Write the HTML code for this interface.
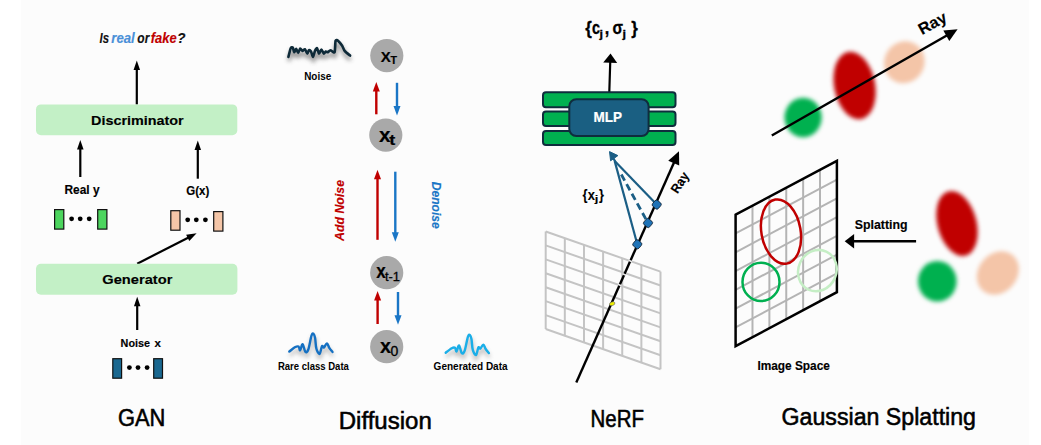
<!DOCTYPE html>
<html><head><meta charset="utf-8"><style>
html,body{margin:0;padding:0;background:#fff;}
svg{display:block;font-family:"Liberation Sans",sans-serif;}
</style></head><body>
<svg width="1041" height="445" viewBox="0 0 1041 445">
<defs>
<filter id="bl" x="-50%" y="-50%" width="200%" height="200%"><feGaussianBlur stdDeviation="1.9"/></filter>
<filter id="sh" x="-20%" y="-50%" width="140%" height="200%"><feGaussianBlur stdDeviation="1.9"/></filter>
</defs>
<rect width="1041" height="445" fill="#ffffff"/><rect x="21" y="0" width="1008" height="445" fill="#fcfcfc"/>
<text x="99.6" y="42.8" font-size="14" font-weight="bold" font-style="italic" text-anchor="start" fill="#111" stroke="#111" stroke-width="0.15" textLength="9.5" lengthAdjust="spacingAndGlyphs" >Is</text>
<text x="111.3" y="42.8" font-size="14" font-weight="bold" font-style="italic" text-anchor="start" fill="#4a90d8" stroke="#4a90d8" stroke-width="0.15" textLength="23.5" lengthAdjust="spacingAndGlyphs" >real</text>
<text x="137.3" y="42.8" font-size="14" font-weight="bold" font-style="italic" text-anchor="start" fill="#111" stroke="#111" stroke-width="0.15" textLength="12" lengthAdjust="spacingAndGlyphs" >or</text>
<text x="150.7" y="42.8" font-size="14" font-weight="bold" font-style="italic" text-anchor="start" fill="#c00000" stroke="#c00000" stroke-width="0.15" textLength="26" lengthAdjust="spacingAndGlyphs" >fake</text>
<text x="177" y="42.8" font-size="14" font-weight="bold" font-style="italic" text-anchor="start" fill="#111" stroke="#111" stroke-width="0.15" textLength="8.5" lengthAdjust="spacingAndGlyphs" >?</text>
<line x1="136.80" y1="104.50" x2="136.80" y2="69.00" stroke="#000" stroke-width="2.2"/><polygon points="136.80,60.50 140.05,70.00 133.55,70.00" fill="#000"/>
<rect x="36" y="104.4" width="201.3" height="30.8" rx="5" fill="#c3f0c6"/>
<text x="91" y="124.6" font-size="13.7" font-weight="bold" font-style="normal" text-anchor="start" fill="#000" stroke="#000" stroke-width="0.15" textLength="92.7" lengthAdjust="spacingAndGlyphs" >Discriminator</text>
<line x1="80.30" y1="177.00" x2="80.30" y2="148.50" stroke="#000" stroke-width="2.2"/><polygon points="80.30,140.00 83.55,149.50 77.05,149.50" fill="#000"/>
<line x1="197.80" y1="178.70" x2="197.80" y2="148.90" stroke="#000" stroke-width="2.2"/><polygon points="197.80,140.40 201.05,149.90 194.55,149.90" fill="#000"/>
<text x="82" y="194.3" font-size="12.5" font-weight="bold" font-style="normal" text-anchor="middle" fill="#000" stroke="#000" stroke-width="0.15" textLength="35" lengthAdjust="spacingAndGlyphs" >Real y</text>
<text x="197.8" y="195" font-size="12.5" font-weight="bold" font-style="normal" text-anchor="middle" fill="#000" stroke="#000" stroke-width="0.15" textLength="23" lengthAdjust="spacingAndGlyphs" >G(x)</text>
<rect x="54.6" y="209.6" width="9.2" height="19.5" fill="#4cd55e" stroke="#111" stroke-width="1.2"/><rect x="97.7" y="209.6" width="9.2" height="19.5" fill="#4cd55e" stroke="#111" stroke-width="1.2"/><circle cx="71.6" cy="218.8" r="2.4" fill="#000"/><circle cx="80.2" cy="218.8" r="2.4" fill="#000"/><circle cx="89.2" cy="218.8" r="2.4" fill="#000"/>
<rect x="170.8" y="210.7" width="9.2" height="19.5" fill="#f5c6a8" stroke="#111" stroke-width="1.2"/><rect x="213.7" y="211.6" width="9.2" height="19.5" fill="#f5c6a8" stroke="#111" stroke-width="1.2"/><circle cx="187.7" cy="219.8" r="2.4" fill="#000"/><circle cx="196.3" cy="219.8" r="2.4" fill="#000"/><circle cx="205.4" cy="219.8" r="2.4" fill="#000"/>
<line x1="137.20" y1="263.70" x2="188.59" y2="237.40" stroke="#000" stroke-width="2.2"/><polygon points="196.60,233.30 189.29,240.97 186.10,234.74" fill="#000"/>
<rect x="36" y="263.7" width="201.4" height="31.1" rx="5" fill="#c3f0c6"/>
<text x="102.3" y="283.5" font-size="13.7" font-weight="bold" font-style="normal" text-anchor="start" fill="#000" stroke="#000" stroke-width="0.15" textLength="70.1" lengthAdjust="spacingAndGlyphs" >Generator</text>
<line x1="137.20" y1="330.00" x2="137.20" y2="305.30" stroke="#000" stroke-width="2.2"/><polygon points="137.20,296.80 140.45,306.30 133.95,306.30" fill="#000"/>
<text x="120.6" y="346.8" font-size="11.6" font-weight="bold" font-style="normal" text-anchor="start" fill="#000" stroke="#000" stroke-width="0.15" textLength="29.4" lengthAdjust="spacingAndGlyphs" >Noise</text>
<text x="154.6" y="346.8" font-size="11.6" font-weight="bold" font-style="normal" text-anchor="start" fill="#000" stroke="#000" stroke-width="0.15" textLength="6.4" lengthAdjust="spacingAndGlyphs" >x</text>
<rect x="112.8" y="358.7" width="8.8" height="19.5" fill="#1a6890" stroke="#111" stroke-width="1.2"/><rect x="153.7" y="358.7" width="8.8" height="19.5" fill="#1a6890" stroke="#111" stroke-width="1.2"/><circle cx="129.4" cy="367.6" r="2.4" fill="#000"/><circle cx="138" cy="367.6" r="2.4" fill="#000"/><circle cx="147.1" cy="367.6" r="2.4" fill="#000"/>
<text x="117.9" y="426" font-size="23.5" font-weight="normal" font-style="normal" text-anchor="start" fill="#000" stroke="#000" stroke-width="0.55" textLength="47.4" lengthAdjust="spacingAndGlyphs" >GAN</text>
<circle cx="386.8" cy="55.6" r="16.6" fill="#a9a9a9"/>
<circle cx="385.8" cy="135.1" r="16.6" fill="#a9a9a9"/>
<circle cx="386.7" cy="272.7" r="16.6" fill="#a9a9a9"/>
<circle cx="386.7" cy="346.7" r="16.6" fill="#a9a9a9"/>
<text x="380.8" y="61.8" font-size="15.2" font-weight="bold" font-style="normal" text-anchor="start" fill="#000" stroke="#000" stroke-width="0.2" textLength="10" lengthAdjust="spacingAndGlyphs" >X</text>
<text x="390.5" y="63.9" font-size="10.2" font-weight="bold" font-style="normal" text-anchor="start" fill="#000" stroke="#000" stroke-width="0.2" textLength="6.5" lengthAdjust="spacingAndGlyphs" >T</text>
<text x="379" y="141.9" font-size="21" font-weight="bold" font-style="normal" text-anchor="start" fill="#000" stroke="#000" stroke-width="0.2" textLength="11.5" lengthAdjust="spacingAndGlyphs" >x</text>
<text x="389.3" y="144.8" font-size="14" font-weight="bold" font-style="normal" text-anchor="start" fill="#000" stroke="#000" stroke-width="0.2" textLength="6" lengthAdjust="spacingAndGlyphs" >t</text>
<text x="376.3" y="278.1" font-size="20" font-weight="bold" font-style="normal" text-anchor="start" fill="#000" stroke="#000" stroke-width="0.2" textLength="9.5" lengthAdjust="spacingAndGlyphs" >x</text>
<text x="385" y="281.2" font-size="13" font-weight="normal" font-style="normal" text-anchor="start" fill="#000" stroke="#000" stroke-width="0.3" textLength="15" lengthAdjust="spacingAndGlyphs" >t-1</text>
<text x="379.9" y="352.8" font-size="20" font-weight="bold" font-style="normal" text-anchor="start" fill="#000" stroke="#000" stroke-width="0.2" textLength="11" lengthAdjust="spacingAndGlyphs" >x</text>
<text x="390.6" y="355.7" font-size="13.8" font-weight="normal" font-style="normal" text-anchor="start" fill="#000" stroke="#000" stroke-width="0.3" textLength="7.8" lengthAdjust="spacingAndGlyphs" >0</text>
<line x1="376.30" y1="114.30" x2="376.30" y2="90.50" stroke="#c00000" stroke-width="2.4"/><polygon points="376.30,82.00 379.80,91.50 372.80,91.50" fill="#c00000"/>
<line x1="397.00" y1="82.80" x2="397.00" y2="107.10" stroke="#1a76c6" stroke-width="2.4"/><polygon points="397.00,115.60 393.50,106.10 400.50,106.10" fill="#1a76c6"/>
<line x1="377.50" y1="239.80" x2="377.50" y2="178.20" stroke="#c00000" stroke-width="2.4"/><polygon points="377.50,169.70 381.00,179.20 374.00,179.20" fill="#c00000"/>
<line x1="395.30" y1="171.70" x2="395.30" y2="233.30" stroke="#1a76c6" stroke-width="2.4"/><polygon points="395.30,241.80 391.80,232.30 398.80,232.30" fill="#1a76c6"/>
<line x1="377.60" y1="324.00" x2="377.60" y2="299.50" stroke="#c00000" stroke-width="2.4"/><polygon points="377.60,291.00 381.10,300.50 374.10,300.50" fill="#c00000"/>
<line x1="398.00" y1="292.00" x2="398.00" y2="316.20" stroke="#1a76c6" stroke-width="2.4"/><polygon points="398.00,324.70 394.50,315.20 401.50,315.20" fill="#1a76c6"/>
<g transform="translate(343.9,210.5) rotate(-90)"><text x="0" y="0" font-size="13" font-weight="bold" font-style="italic" text-anchor="middle" fill="#c00000" stroke="#c00000" stroke-width="0.15" textLength="61" lengthAdjust="spacingAndGlyphs" >Add Noise</text></g>
<g transform="translate(431.8,205.3) rotate(90)"><text x="0" y="0" font-size="13" font-weight="bold" font-style="italic" text-anchor="middle" fill="#1a76c6" stroke="#1a76c6" stroke-width="0.15" textLength="47" lengthAdjust="spacingAndGlyphs" >Denoise</text></g>
<text x="317.7" y="79.7" font-size="10.5" font-weight="bold" font-style="normal" text-anchor="middle" fill="#000" textLength="27" lengthAdjust="spacingAndGlyphs" >Noise</text>
<text x="313.4" y="369.6" font-size="10.5" font-weight="bold" font-style="normal" text-anchor="middle" fill="#000" textLength="71" lengthAdjust="spacingAndGlyphs" >Rare class Data</text>
<text x="470.6" y="370" font-size="10.5" font-weight="bold" font-style="normal" text-anchor="middle" fill="#000" textLength="74" lengthAdjust="spacingAndGlyphs" >Generated Data</text>
<text x="338.7" y="429" font-size="23.5" font-weight="normal" font-style="normal" text-anchor="start" fill="#000" stroke="#000" stroke-width="0.55" textLength="93.1" lengthAdjust="spacingAndGlyphs" >Diffusion</text>
<path d="M288.9,60.9 C289.2,59.9 290.7,53.3 291.2,52.2 C291.7,51.1 292.9,51.0 293.3,51.5 C293.7,52.0 294.2,56.0 294.6,56.2 C295.0,56.4 296.1,52.7 296.6,52.8 C297.1,52.9 298.2,56.9 298.7,56.9 C299.2,56.9 300.2,52.7 300.7,52.5 C301.2,52.3 302.5,54.8 303.0,54.9 C303.5,55.0 304.8,52.9 305.4,53.2 C306.0,53.5 307.3,57.5 307.8,57.6 C308.3,57.7 309.0,54.4 309.4,54.2 C309.8,54.0 311.0,54.7 311.5,55.5 C312.0,56.3 313.0,61.0 313.5,60.9 C314.0,60.8 315.0,55.9 315.5,54.9 C316.0,53.9 317.0,51.9 317.5,52.2 C318.0,52.5 319.0,57.4 319.5,57.6 C320.0,57.8 321.3,53.5 321.9,53.5 C322.5,53.5 323.8,57.4 324.3,57.6 C324.8,57.8 325.8,55.7 326.3,55.5 C326.8,55.3 327.8,56.4 328.3,56.2 C328.8,56.0 330.2,54.2 331.0,54.2 C331.8,54.2 334.5,57.3 335.1,56.2 C335.7,55.1 335.7,46.0 336.1,44.7 C336.5,43.4 337.8,44.1 338.5,44.7 C339.2,45.3 341.7,48.3 342.5,49.5 C343.3,50.7 344.3,53.7 345.2,54.9 C346.1,56.1 350.0,59.1 350.6,59.6" fill="none" stroke="#555" stroke-width="3.5" opacity="0.6" filter="url(#sh)" stroke-linejoin="round"/>
<path d="M288.4,56.9 C288.7,55.9 290.2,49.3 290.7,48.2 C291.2,47.1 292.4,47.0 292.8,47.5 C293.2,48.0 293.7,52.0 294.1,52.2 C294.5,52.4 295.6,48.7 296.1,48.8 C296.6,48.9 297.7,52.9 298.2,52.9 C298.7,52.9 299.7,48.7 300.2,48.5 C300.7,48.3 302.0,50.8 302.5,50.9 C303.0,51.0 304.3,48.9 304.9,49.2 C305.5,49.5 306.8,53.5 307.3,53.6 C307.8,53.7 308.5,50.4 308.9,50.2 C309.3,50.0 310.5,50.7 311.0,51.5 C311.5,52.3 312.5,57.0 313.0,56.9 C313.5,56.8 314.5,51.9 315.0,50.9 C315.5,49.9 316.5,47.9 317.0,48.2 C317.5,48.5 318.5,53.4 319.0,53.6 C319.5,53.8 320.8,49.5 321.4,49.5 C322.0,49.5 323.3,53.4 323.8,53.6 C324.3,53.8 325.3,51.7 325.8,51.5 C326.3,51.3 327.3,52.4 327.8,52.2 C328.3,52.0 329.7,50.2 330.5,50.2 C331.3,50.2 334.0,53.3 334.6,52.2 C335.2,51.1 335.2,42.0 335.6,40.7 C336.0,39.4 337.3,40.1 338.0,40.7 C338.7,41.3 341.2,44.3 342.0,45.5 C342.8,46.7 343.8,49.7 344.7,50.9 C345.6,52.1 349.5,55.1 350.1,55.6" fill="none" stroke="#0e2a38" stroke-width="2.6" stroke-linejoin="round" stroke-linecap="round"/>
<path d="M289.8,355.5 C290.8,354.8 294.2,351.8 295.8,351.0 C297.4,350.2 298.3,350.1 299.1,350.6 C299.9,351.2 300.0,354.7 300.7,354.3 C301.4,353.9 302.2,347.9 303.1,348.2 C304.0,348.5 304.9,355.0 305.9,355.9 C306.8,356.8 307.8,356.2 308.8,353.5 C309.8,350.8 311.1,342.3 312.0,339.7 C312.9,337.1 313.4,337.3 314.0,337.7 C314.6,338.1 315.1,339.6 315.6,342.1 C316.1,344.6 316.1,350.1 316.9,352.7 C317.6,355.3 319.2,358.3 320.1,357.9 C321.0,357.5 321.8,351.3 322.5,350.2 C323.2,349.1 323.7,351.9 324.5,351.4 C325.3,350.9 326.5,347.3 327.4,347.4 C328.3,347.5 328.9,350.4 329.8,351.8 C330.7,353.2 332.5,355.2 333.0,355.9" fill="none" stroke="#777" stroke-width="3" opacity="0.45" filter="url(#sh)"/>
<path d="M289.3,351.5 C290.3,350.8 293.8,347.8 295.3,347.0 C296.9,346.2 297.8,346.1 298.6,346.6 C299.4,347.2 299.5,350.7 300.2,350.3 C300.9,349.9 301.7,343.9 302.6,344.2 C303.5,344.5 304.4,351.0 305.4,351.9 C306.3,352.8 307.3,352.2 308.3,349.5 C309.3,346.8 310.6,338.3 311.5,335.7 C312.4,333.1 312.9,333.3 313.5,333.7 C314.1,334.1 314.6,335.6 315.1,338.1 C315.6,340.6 315.6,346.1 316.4,348.7 C317.1,351.3 318.7,354.3 319.6,353.9 C320.5,353.5 321.3,347.3 322.0,346.2 C322.7,345.1 323.2,347.9 324.0,347.4 C324.8,346.9 326.0,343.3 326.9,343.4 C327.8,343.5 328.4,346.4 329.3,347.8 C330.2,349.2 332.0,351.2 332.5,351.9" fill="none" stroke="#1570c2" stroke-width="2.4" stroke-linecap="round" stroke-linejoin="round"/>
<path d="M446.2,356.7 C447.2,355.9 450.7,353.0 452.2,352.2 C453.8,351.4 454.7,351.2 455.5,351.8 C456.3,352.4 456.4,355.9 457.1,355.5 C457.8,355.1 458.6,349.1 459.5,349.4 C460.4,349.7 461.3,356.2 462.3,357.1 C463.2,358.0 464.2,357.4 465.2,354.7 C466.2,352.0 467.5,343.5 468.4,340.9 C469.3,338.3 469.8,338.5 470.4,338.9 C471.0,339.3 471.5,340.8 472.0,343.3 C472.5,345.8 472.5,351.3 473.3,353.9 C474.0,356.5 475.6,359.5 476.5,359.1 C477.4,358.7 478.2,352.5 478.9,351.4 C479.6,350.3 480.1,353.1 480.9,352.6 C481.7,352.1 482.9,348.5 483.8,348.6 C484.7,348.7 485.3,351.6 486.2,353.0 C487.1,354.4 488.9,356.4 489.4,357.1" fill="none" stroke="#777" stroke-width="3" opacity="0.45" filter="url(#sh)"/>
<path d="M445.7,352.7 C446.7,351.9 450.2,349.0 451.7,348.2 C453.3,347.4 454.2,347.2 455.0,347.8 C455.8,348.4 455.9,351.9 456.6,351.5 C457.3,351.1 458.1,345.1 459.0,345.4 C459.9,345.7 460.8,352.2 461.8,353.1 C462.7,354.0 463.7,353.4 464.7,350.7 C465.7,348.0 467.0,339.5 467.9,336.9 C468.8,334.3 469.3,334.5 469.9,334.9 C470.5,335.3 471.0,336.8 471.5,339.3 C472.0,341.8 472.0,347.3 472.8,349.9 C473.5,352.5 475.1,355.5 476.0,355.1 C476.9,354.7 477.7,348.5 478.4,347.4 C479.1,346.3 479.6,349.1 480.4,348.6 C481.2,348.1 482.4,344.5 483.3,344.6 C484.2,344.7 484.8,347.6 485.7,349.0 C486.6,350.4 488.4,352.4 488.9,353.1" fill="none" stroke="#1aaee8" stroke-width="2.4" stroke-linecap="round" stroke-linejoin="round"/>
<text x="585.2" y="34" font-size="17.5" font-weight="bold" font-style="normal" text-anchor="start" fill="#000" stroke="#000" stroke-width="0.3" textLength="6.6" lengthAdjust="spacingAndGlyphs" >{</text>
<text x="592" y="34" font-size="17.5" font-weight="bold" font-style="normal" text-anchor="start" fill="#000" stroke="#000" stroke-width="0.3" textLength="8" lengthAdjust="spacingAndGlyphs" >c</text>
<text x="599.4" y="37.5" font-size="11" font-weight="bold" font-style="normal" text-anchor="start" fill="#000" stroke="#000" stroke-width="0.3" textLength="3.5" lengthAdjust="spacingAndGlyphs" >j</text>
<text x="604.8" y="34" font-size="17.5" font-weight="bold" font-style="normal" text-anchor="start" fill="#000" stroke="#000" stroke-width="0.3" textLength="4.5" lengthAdjust="spacingAndGlyphs" >,</text>
<text x="612.5" y="34" font-size="17.5" font-weight="bold" font-style="normal" text-anchor="start" fill="#000" stroke="#000" stroke-width="0.3" textLength="10.5" lengthAdjust="spacingAndGlyphs" >σ</text>
<text x="622.6" y="37.5" font-size="11" font-weight="bold" font-style="normal" text-anchor="start" fill="#000" stroke="#000" stroke-width="0.3" textLength="3.5" lengthAdjust="spacingAndGlyphs" >j</text>
<text x="631.3" y="34" font-size="17.5" font-weight="bold" font-style="normal" text-anchor="start" fill="#000" stroke="#000" stroke-width="0.3" textLength="6.6" lengthAdjust="spacingAndGlyphs" >}</text>
<line x1="609.30" y1="92.00" x2="610.24" y2="61.80" stroke="#000" stroke-width="2.2"/><polygon points="610.50,53.40 617.20,63.01 603.21,62.58" fill="#000"/>
<rect x="543" y="92.2" width="132.5" height="15.1" rx="3" fill="#00b050" stroke="#0f2d3d" stroke-width="2"/>
<rect x="543" y="111.5" width="132.5" height="14.4" rx="3" fill="#00b050" stroke="#0f2d3d" stroke-width="2"/>
<rect x="543" y="130.9" width="132.5" height="14.2" rx="3" fill="#00b050" stroke="#0f2d3d" stroke-width="2"/>
<rect x="569.3" y="99.2" width="79.3" height="36.9" rx="7" fill="#1a5f82" stroke="#0f2d3d" stroke-width="2"/>
<text x="607.7" y="121.9" font-size="14.1" font-weight="bold" font-style="normal" text-anchor="middle" fill="#fff" stroke="#fff" stroke-width="0.2" textLength="28.5" lengthAdjust="spacingAndGlyphs" >MLP</text>
<line x1="545.70" y1="231.50" x2="545.70" y2="329.00" stroke="#c4c4c4" stroke-width="2"/><line x1="564.83" y1="238.18" x2="564.83" y2="335.70" stroke="#c4c4c4" stroke-width="2"/><line x1="583.97" y1="244.87" x2="583.97" y2="342.40" stroke="#c4c4c4" stroke-width="2"/><line x1="603.10" y1="251.55" x2="603.10" y2="349.10" stroke="#c4c4c4" stroke-width="2"/><line x1="622.23" y1="258.23" x2="622.23" y2="355.80" stroke="#c4c4c4" stroke-width="2"/><line x1="641.37" y1="264.92" x2="641.37" y2="362.50" stroke="#c4c4c4" stroke-width="2"/><line x1="660.50" y1="271.60" x2="660.50" y2="369.20" stroke="#c4c4c4" stroke-width="2"/><line x1="545.70" y1="231.50" x2="660.50" y2="271.60" stroke="#c4c4c4" stroke-width="2"/><line x1="545.70" y1="245.43" x2="660.50" y2="285.54" stroke="#c4c4c4" stroke-width="2"/><line x1="545.70" y1="259.36" x2="660.50" y2="299.49" stroke="#c4c4c4" stroke-width="2"/><line x1="545.70" y1="273.29" x2="660.50" y2="313.43" stroke="#c4c4c4" stroke-width="2"/><line x1="545.70" y1="287.21" x2="660.50" y2="327.37" stroke="#c4c4c4" stroke-width="2"/><line x1="545.70" y1="301.14" x2="660.50" y2="341.31" stroke="#c4c4c4" stroke-width="2"/><line x1="545.70" y1="315.07" x2="660.50" y2="355.26" stroke="#c4c4c4" stroke-width="2"/><line x1="545.70" y1="329.00" x2="660.50" y2="369.20" stroke="#c4c4c4" stroke-width="2"/>
<line x1="576.30" y1="382.60" x2="674.13" y2="162.27" stroke="#000" stroke-width="2.4"/><polygon points="679.00,151.30 679.21,165.62 668.24,160.75" fill="#000"/>
<line x1="629.99" y1="261.65" x2="630.59" y2="260.35" stroke="#e8e8e8" stroke-width="3.6"/>
<line x1="624.00" y1="275.15" x2="624.60" y2="273.85" stroke="#e8e8e8" stroke-width="3.6"/>
<line x1="619.34" y1="285.65" x2="619.94" y2="284.35" stroke="#e8e8e8" stroke-width="3.6"/>
<line x1="614.7" y1="161.1" x2="656.7" y2="204.6" stroke="#1b5e85" stroke-width="2.2"/>
<line x1="614.7" y1="161.1" x2="637.3" y2="244.3" stroke="#1b5e85" stroke-width="2.2"/>
<line x1="621.3" y1="174.5" x2="648" y2="223" stroke="#1b5e85" stroke-width="2.8" stroke-dasharray="7,4"/>
<polygon points="609.5,151.6 617.9,155.6 610.6,160.8" fill="#1b5e85" stroke="#1b5e85" stroke-width="1" stroke-linejoin="round"/>
<line x1="612" y1="156" x2="615.5" y2="162" stroke="#1b5e85" stroke-width="2.2"/>
<rect x="652.9000000000001" y="200.79999999999998" width="7.6" height="7.6" rx="2" fill="#1f73b7" stroke="#123" stroke-width="0.8" transform="rotate(40 656.7 204.6)"/>
<rect x="644.2" y="219.2" width="7.6" height="7.6" rx="2" fill="#1f73b7" stroke="#123" stroke-width="0.8" transform="rotate(40 648 223)"/>
<rect x="633.5" y="240.5" width="7.6" height="7.6" rx="2" fill="#1f73b7" stroke="#123" stroke-width="0.8" transform="rotate(40 637.3 244.3)"/>
<ellipse cx="612.2" cy="303.7" rx="2.8" ry="1.8" fill="#f0f000" stroke="#666" stroke-width="0.6" transform="rotate(-20 612.2 303.7)"/>
<text x="582.6" y="199.6" font-size="14.5" font-weight="bold" font-style="normal" text-anchor="start" fill="#000" stroke="#000" stroke-width="0.1" textLength="5" lengthAdjust="spacingAndGlyphs" >{</text>
<text x="587.8" y="199.6" font-size="14.3" font-weight="bold" font-style="normal" text-anchor="start" fill="#000" stroke="#000" stroke-width="0.1" textLength="7.2" lengthAdjust="spacingAndGlyphs" >x</text>
<text x="594.8" y="201.8" font-size="9.5" font-weight="bold" font-style="normal" text-anchor="start" fill="#000" stroke="#000" stroke-width="0.1" textLength="3.6" lengthAdjust="spacingAndGlyphs" >j</text>
<text x="599" y="199.6" font-size="14.5" font-weight="bold" font-style="normal" text-anchor="start" fill="#000" stroke="#000" stroke-width="0.1" textLength="5" lengthAdjust="spacingAndGlyphs" >}</text>
<g transform="translate(683.6,185) rotate(-57)"><text x="0" y="0" font-size="13" font-weight="bold" font-style="normal" text-anchor="middle" fill="#000" stroke="#000" stroke-width="0.15" textLength="22" lengthAdjust="spacingAndGlyphs" >Ray</text></g>
<text x="590.5" y="426.7" font-size="23.5" font-weight="normal" font-style="normal" text-anchor="start" fill="#000" stroke="#000" stroke-width="0.55" textLength="53.4" lengthAdjust="spacingAndGlyphs" >NeRF</text>
<ellipse cx="803.1" cy="117.5" rx="18.6" ry="19.8" fill="#00b050" filter="url(#bl)"/>
<ellipse cx="854.6" cy="85.5" rx="20.5" ry="34.2" fill="#c00000" filter="url(#bl)" transform="rotate(-11 854.6 85.5)"/>
<ellipse cx="904.5" cy="62" rx="20" ry="21.3" fill="#f4c5a8" filter="url(#bl)" transform="rotate(30 904 61.8)"/>
<line x1="771.80" y1="135.50" x2="947.18" y2="35.25" stroke="#000" stroke-width="2.5"/><polygon points="957.60,29.30 949.29,40.96 943.34,30.54" fill="#000"/>
<g transform="translate(935,28) rotate(-29)"><text x="0" y="0" font-size="16" font-weight="bold" font-style="normal" text-anchor="middle" fill="#000" stroke="#000" stroke-width="0.15" textLength="30" lengthAdjust="spacingAndGlyphs" >Ray</text></g>
<line x1="752.48" y1="205.73" x2="752.48" y2="337.20" stroke="#b4b4b4" stroke-width="2"/><line x1="769.37" y1="196.77" x2="769.37" y2="328.20" stroke="#b4b4b4" stroke-width="2"/><line x1="786.25" y1="187.80" x2="786.25" y2="319.20" stroke="#b4b4b4" stroke-width="2"/><line x1="803.13" y1="178.83" x2="803.13" y2="310.20" stroke="#b4b4b4" stroke-width="2"/><line x1="820.02" y1="169.87" x2="820.02" y2="301.20" stroke="#b4b4b4" stroke-width="2"/><line x1="735.60" y1="233.49" x2="836.90" y2="179.66" stroke="#b4b4b4" stroke-width="2"/><line x1="735.60" y1="252.27" x2="836.90" y2="198.41" stroke="#b4b4b4" stroke-width="2"/><line x1="735.60" y1="271.06" x2="836.90" y2="217.17" stroke="#b4b4b4" stroke-width="2"/><line x1="735.60" y1="289.84" x2="836.90" y2="235.93" stroke="#b4b4b4" stroke-width="2"/><line x1="735.60" y1="308.63" x2="836.90" y2="254.69" stroke="#b4b4b4" stroke-width="2"/><line x1="735.60" y1="327.41" x2="836.90" y2="273.44" stroke="#b4b4b4" stroke-width="2"/><polygon points="735.6,214.7 836.9,160.9 836.9,292.2 735.6,346.2" fill="none" stroke="#000" stroke-width="2.5" stroke-linejoin="miter"/>
<ellipse cx="781" cy="231.6" rx="19.6" ry="32.5" fill="none" stroke="#c00000" stroke-width="2.5" transform="rotate(-10 781 231.6)"/>
<ellipse cx="761" cy="281.9" rx="18.5" ry="19.2" fill="none" stroke="#00b050" stroke-width="2.5"/>
<ellipse cx="817.4" cy="270.6" rx="19" ry="21" fill="none" stroke="#c5eec5" stroke-width="2.5" transform="rotate(25 817.4 270.6)"/>
<text x="854.8" y="229.4" font-size="12.5" font-weight="bold" font-style="normal" text-anchor="start" fill="#000" stroke="#000" stroke-width="0.15" textLength="52.8" lengthAdjust="spacingAndGlyphs" >Splatting</text>
<line x1="916.10" y1="241.30" x2="853.10" y2="241.30" stroke="#000" stroke-width="2.6"/><polygon points="844.70,241.30 854.10,234.05 854.10,248.55" fill="#000"/>
<ellipse cx="957" cy="223.5" rx="19.5" ry="33.2" fill="#c00000" filter="url(#bl)" transform="rotate(-15 957 223.5)"/>
<ellipse cx="937.3" cy="281.3" rx="19.3" ry="20.3" fill="#00b050" filter="url(#bl)"/>
<ellipse cx="997.8" cy="273" rx="19.3" ry="23.3" fill="#f4c5a8" filter="url(#bl)" transform="rotate(40 997.8 273)"/>
<text x="757.4" y="370.1" font-size="12" font-weight="bold" font-style="normal" text-anchor="start" fill="#000" stroke="#000" stroke-width="0.15" textLength="72.5" lengthAdjust="spacingAndGlyphs" >Image Space</text>
<text x="781.6" y="424.6" font-size="23.5" font-weight="normal" font-style="normal" text-anchor="start" fill="#000" stroke="#000" stroke-width="0.55" textLength="194.4" lengthAdjust="spacingAndGlyphs" >Gaussian Splatting</text>
</svg></body></html>
